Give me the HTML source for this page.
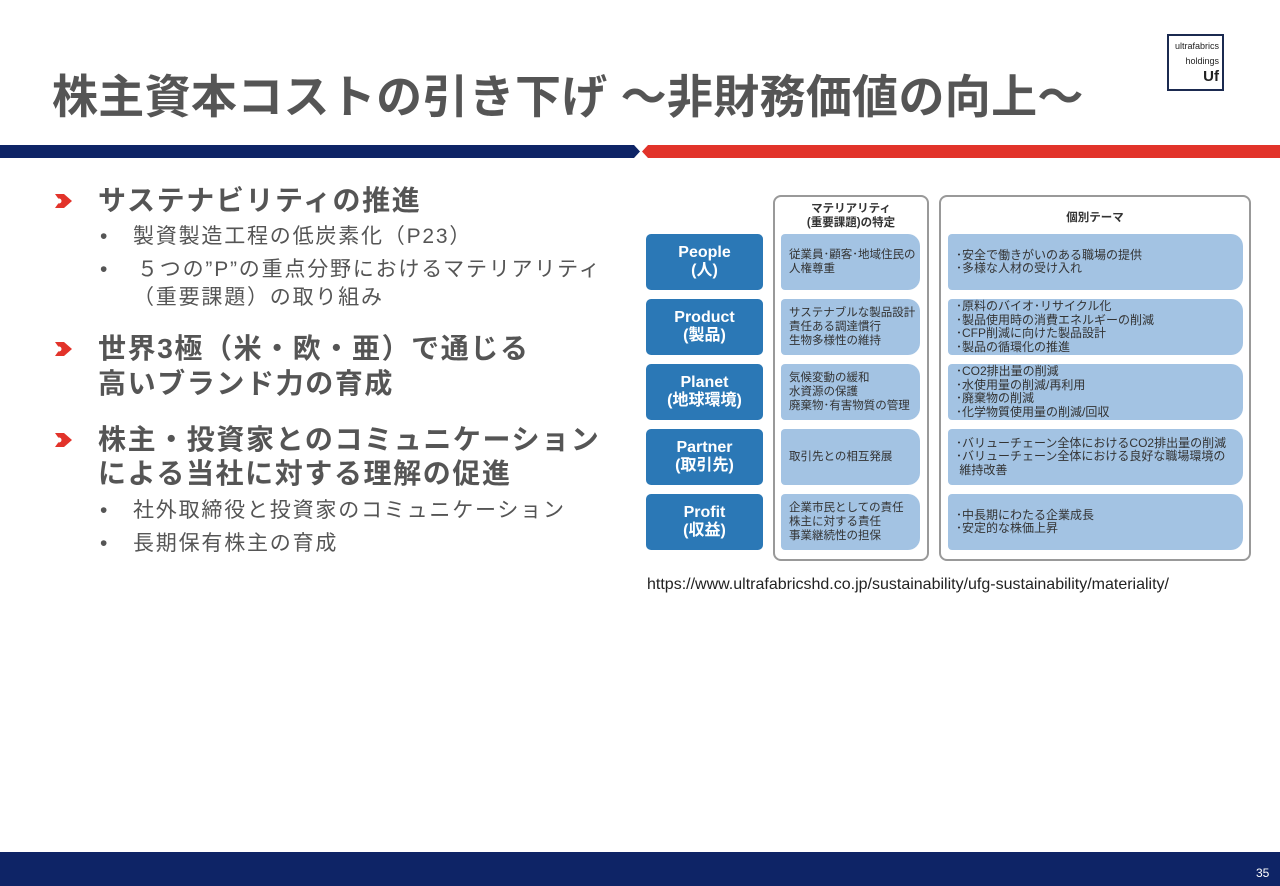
<!DOCTYPE html>
<html><head><meta charset="utf-8"><style>
*{margin:0;padding:0;box-sizing:border-box}
body{width:1280px;height:886px;position:relative;background:#fff;font-family:"Liberation Sans","Noto Sans CJK JP",sans-serif;overflow:hidden;color:#555}
.a{position:absolute;white-space:nowrap}
.h{font-weight:bold;font-size:28px;color:#555;line-height:36px;letter-spacing:1.6px}
.s{font-size:21px;color:#555;line-height:30px;letter-spacing:1.8px}
.ic{position:absolute;width:22px;height:22px}
.p{position:absolute;left:646px;width:117px;height:56px;background:#2b78b6;border-radius:5px;color:#fff;text-align:center;font-size:16px;line-height:18px;padding-top:10px;font-weight:bold}
.c2{position:absolute;left:781px;width:139px;height:56px;background:#a3c3e3;border-radius:4px 12px 12px 4px;font-size:11.5px;line-height:14px;color:#333;padding-left:8px;display:flex;flex-direction:column;justify-content:center}
.c3{position:absolute;left:948px;width:295px;height:56px;background:#a3c3e3;border-radius:4px 12px 12px 4px;font-size:12px;line-height:13.5px;color:#333;padding-left:8px;display:flex;flex-direction:column;justify-content:center}
</style></head><body>
<div class="a" style="left:52px;top:61px;font-size:46px;font-weight:bold;color:#555;letter-spacing:0.3px">株主資本コストの引き下げ ～非財務価値の向上～</div>
<div class="a" style="left:1167px;top:34px;width:57px;height:57px;border:2px solid #1b2a50;font-size:9px;color:#222;text-align:right;padding:3px 3px 0 0;line-height:15px;white-space:normal">ultrafabrics<br>holdings<br><span style="font-size:15px;font-weight:bold">Uf</span></div>
<svg class="a" style="left:0;top:144px" width="1280" height="15">
<polygon points="0,1 634,1 640,7.5 634,14 0,14" fill="#0e2466"/>
<polygon points="648,1 1280,1 1280,14 648,14 642,7.5" fill="#e2332a"/>
</svg>
<svg class="ic" style="left:52px;top:190px" viewBox="0 0 22 22"><path d="M3 4 L12 4 L20 11 L12 18 L3 18 L8 11Z" fill="#e2332a"/><circle cx="7" cy="11" r="2.5" fill="#fff"/></svg>
<div class="a h" style="left:98px;top:183px">サステナビリティの推進</div>
<div class="a s" style="left:100px;top:222px">•</div><div class="a s" style="left:133px;top:222px">製資製造工程の低炭素化（P23）</div>
<div class="a s" style="left:100px;top:255px">•</div><div class="a s" style="left:137px;top:255px">５つの”P”の重点分野におけるマテリアリティ</div>
<div class="a s" style="left:133px;top:283px">（重要課題）の取り組み</div>
<svg class="ic" style="left:52px;top:338px" viewBox="0 0 22 22"><path d="M3 4 L12 4 L20 11 L12 18 L3 18 L8 11Z" fill="#e2332a"/><circle cx="7" cy="11" r="2.5" fill="#fff"/></svg>
<div class="a h" style="left:98px;top:331px">世界3極（米・欧・亜）で通じる</div>
<div class="a h" style="left:98px;top:366px">高いブランド力の育成</div>
<svg class="ic" style="left:52px;top:429px" viewBox="0 0 22 22"><path d="M3 4 L12 4 L20 11 L12 18 L3 18 L8 11Z" fill="#e2332a"/><circle cx="7" cy="11" r="2.5" fill="#fff"/></svg>
<div class="a h" style="left:98px;top:422px">株主・投資家とのコミュニケーション</div>
<div class="a h" style="left:98px;top:456px">による当社に対する理解の促進</div>
<div class="a s" style="left:100px;top:496px">•</div><div class="a s" style="left:133px;top:496px">社外取締役と投資家のコミュニケーション</div>
<div class="a s" style="left:100px;top:529px">•</div><div class="a s" style="left:133px;top:529px">長期保有株主の育成</div>

<div class="a" style="left:773px;top:195px;width:156px;height:366px;border:2px solid #999;border-radius:8px"></div>
<div class="a" style="left:939px;top:195px;width:312px;height:366px;border:2px solid #999;border-radius:8px"></div>
<div class="a" style="left:775px;top:202px;width:152px;text-align:center;font-size:11.5px;line-height:14px;color:#333;font-weight:bold">マテリアリティ<br>(重要課題)の特定</div>
<div class="a" style="left:941px;top:209px;width:308px;text-align:center;font-size:11.5px;color:#333;font-weight:bold">個別テーマ</div>

<div class="p" style="top:234px">People<br>(人)</div>
<div class="p" style="top:299px">Product<br>(製品)</div>
<div class="p" style="top:364px">Planet<br>(地球環境)</div>
<div class="p" style="top:429px">Partner<br>(取引先)</div>
<div class="p" style="top:494px">Profit<br>(収益)</div>

<div class="c2" style="top:234px">従業員･顧客･地域住民の<br>人権尊重</div>
<div class="c2" style="top:299px">サステナブルな製品設計<br>責任ある調達慣行<br>生物多様性の維持</div>
<div class="c2" style="top:364px">気候変動の緩和<br>水資源の保護<br>廃棄物･有害物質の管理</div>
<div class="c2" style="top:429px">取引先との相互発展</div>
<div class="c2" style="top:494px">企業市民としての責任<br>株主に対する責任<br>事業継続性の担保</div>

<div class="c3" style="top:234px">･安全で働きがいのある職場の提供<br>･多様な人材の受け入れ</div>
<div class="c3" style="top:299px">･原料のバイオ･リサイクル化<br>･製品使用時の消費エネルギーの削減<br>･CFP削減に向けた製品設計<br>･製品の循環化の推進</div>
<div class="c3" style="top:364px">･CO2排出量の削減<br>･水使用量の削減/再利用<br>･廃棄物の削減<br>･化学物質使用量の削減/回収</div>
<div class="c3" style="top:429px">･バリューチェーン全体におけるCO2排出量の削減<br>･バリューチェーン全体における良好な職場環境の<br>&nbsp;維持改善</div>
<div class="c3" style="top:494px">･中長期にわたる企業成長<br>･安定的な株価上昇</div>

<div class="a" style="left:647px;top:576px;font-size:16px;color:#222">https://www.ultrafabricshd.co.jp/sustainability/ufg-sustainability/materiality/</div>

<div class="a" style="left:0;top:852px;width:1280px;height:34px;background:#0e2466"></div>
<div class="a" style="left:1256px;top:866px;font-size:12px;color:#fff">35</div>
</body></html>
